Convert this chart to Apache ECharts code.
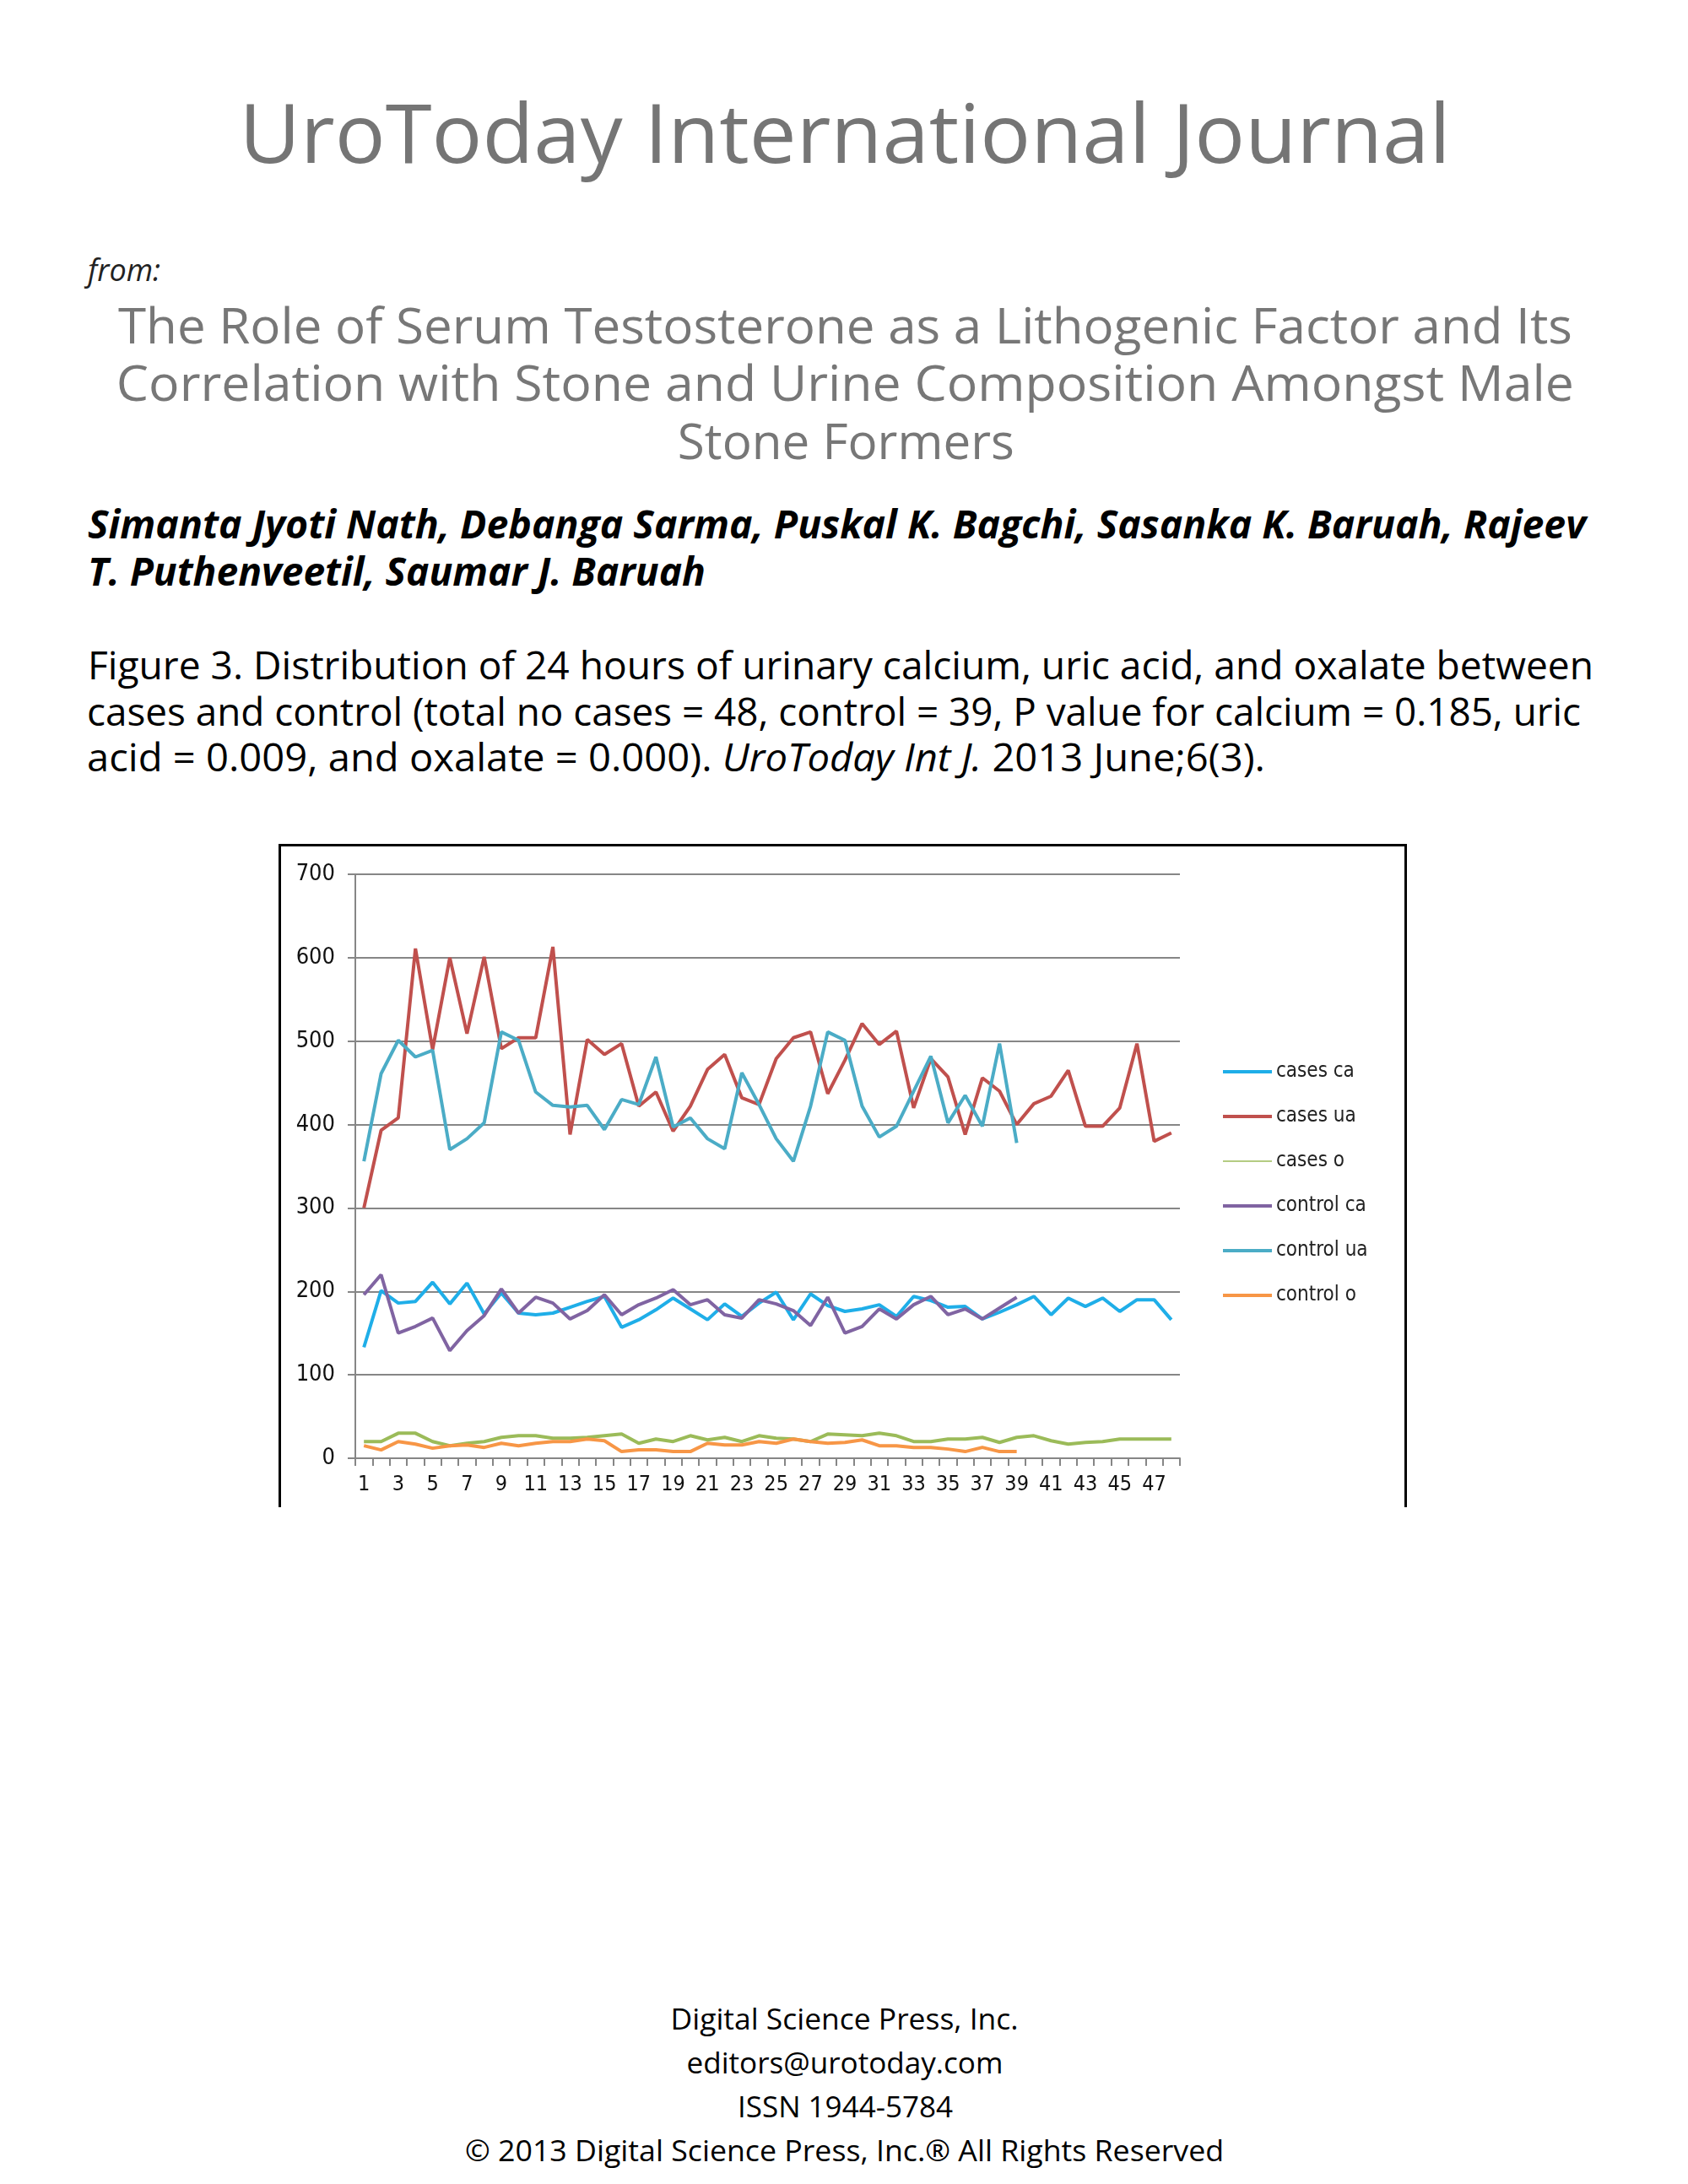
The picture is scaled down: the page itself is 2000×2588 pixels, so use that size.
<!DOCTYPE html>
<html>
<head>
<meta charset="utf-8">
<script src="https://cdn.jsdelivr.net/npm/echarts@6/dist/echarts.min.js"></script>
<style>
  html, body { margin: 0; padding: 0; background: #fff; }
  body { width: 2000px; height: 2588px; position: relative; overflow: hidden; }
  .ln { position: absolute; white-space: nowrap; line-height: 1; font-family: "Open Sans", "Noto Sans", sans-serif; }
  #frame { position: absolute; left: 330px; top: 1000px; width: 1337px; height: 786px;
           border: 3px solid #000; border-bottom: none; box-sizing: border-box; pointer-events: none; z-index: 2; }
  #chart { position: absolute; left: 332px; top: 1002px; width: 1334px; height: 783px; }
</style>
</head>
<body>
<div id="frame"></div>
<div id="chart"></div>
<script>
// patient index on the x axis
const cases = [];
for (let i = 1; i <= 48; i++) cases.push(String(i));

const seriesNames = ['cases ca', 'cases ua', 'cases o', 'control ca', 'control ua', 'control o'];

const casesCa = [133, 201, 186, 188, 211, 185, 210, 173, 198, 174, 172, 174, 181, 188, 194, 157, 166, 178, 192, 179,
                 166, 185, 170, 186, 199, 166, 197, 183, 176, 179, 184, 170, 194, 189, 181, 182, 167, 175, 184, 194,
                 172, 192, 182, 192, 176, 190, 190, 166];
const casesUa = [300, 393, 408, 611, 490, 600, 509, 601, 491, 504, 504, 613, 388, 502, 484, 497, 422, 439, 392, 422,
                 466, 484, 432, 424, 479, 504, 511, 437, 477, 521, 496, 512, 420, 479, 457, 388, 456, 440, 400, 425,
                 434, 465, 398, 398, 420, 497, 380, 390];
const casesO = [20, 20, 30, 30, 20, 15, 18, 20, 25, 27, 27, 24, 24, 25, 27, 29, 18, 23, 20, 27,
                22, 25, 20, 27, 24, 23, 20, 29, 28, 27, 30, 27, 20, 20, 23, 23, 25, 19, 25, 27,
                21, 17, 19, 20, 23, 23, 23, 23];
const controlCa = [196, 220, 150, 158, 168, 129, 153, 171, 203, 174, 193, 186, 167, 177, 196, 172, 184, 192, 202, 184,
                   190, 172, 168, 190, 185, 177, 159, 193, 150, 158, 179, 167, 184, 194, 172, 179, 167, 180, 193];
const controlUa = [356, 461, 501, 481, 489, 370, 383, 402, 511, 501, 439, 423, 421, 423, 394, 430, 424, 481, 397, 408,
                   383, 371, 462, 424, 383, 356, 422, 511, 501, 422, 385, 398, 440, 482, 402, 435, 398, 497, 378];
const controlO = [15, 10, 20, 17, 12, 15, 16, 13, 18, 15, 18, 20, 20, 23, 21, 8, 10, 10, 8, 8,
                  18, 16, 16, 20, 18, 23, 20, 18, 19, 22, 15, 15, 13, 13, 11, 8, 13, 8, 8];

const yTicks = [0, 100, 200, 300, 400, 500, 600, 700];

const colors = ['#1FAEE8', '#C0504D', '#9BBB59', '#8064A2', '#4BACC6', '#F79646'];

// page text: [text(html), x, align, baseline, size, width, style]
const pageLines = [
  ['UroToday International Journal', 1001, 'center', 193, 97, 1435, 'color:#757575'],
  ['from:', 104, 'left', 334, 36, 0, 'font-style:italic;color:#222'],
  ['The Role of Serum Testosterone as a Lithogenic Factor and Its', 1001, 'center', 408, 58, 1723, 'color:#777'],
  ['Correlation with Stone and Urine Composition Amongst Male', 1001, 'center', 476, 58, 1727, 'color:#777'],
  ['Stone Formers', 1002, 'center', 545, 58, 399, 'color:#777'],
  ['Simanta Jyoti Nath, Debanga Sarma, Puskal K. Bagchi, Sasanka K. Baruah, Rajeev', 104, 'left', 638, 46, 1775, 'font-style:italic;font-weight:bold;color:#000'],
  ['T. Puthenveetil, Saumar J. Baruah', 104, 'left', 694, 46, 732, 'font-style:italic;font-weight:bold;color:#000'],
  ['Figure 3. Distribution of 24 hours of urinary calcium, uric acid, and oxalate between', 104, 'left', 805, 45, 1784, 'color:#000'],
  ['cases and control (total no cases = 48, control = 39, P value for calcium = 0.185, uric', 103, 'left', 860, 45, 1770, 'color:#000'],
  ['acid = 0.009, and oxalate = 0.000). <i>UroToday Int J.</i> 2013 June;6(3).', 103, 'left', 914, 45, 1396, 'color:#000'],
  ['Digital Science Press, Inc.', 1001, 'center', 2405, 35, 412, 'color:#000'],
  ['editors@urotoday.com', 1001, 'center', 2457, 35, 375, 'color:#000'],
  ['ISSN 1944-5784', 1001, 'center', 2509, 35, 255, 'color:#000'],
  ['\u00A9 2013 Digital Science Press, Inc.\u00AE All Rights Reserved', 1001, 'center', 2561, 35, 899, 'color:#000']
];

pageLines.forEach(function (p) {
  const d = document.createElement('div');
  d.className = 'ln';
  d.innerHTML = p[0];
  d.style.cssText += p[6] + ';font-size:' + p[4] + 'px;top:' + (p[3] - 0.888 * p[4]) + 'px';
  document.body.appendChild(d);
  const w = d.getBoundingClientRect().width;
  const k = p[5] ? p[5] / w : 1;
  if (p[2] === 'center') {
    d.style.left = (p[1] - w / 2) + 'px';
    d.style.transformOrigin = '50% 50%';
  } else {
    d.style.left = p[1] + 'px';
    d.style.transformOrigin = '0 50%';
  }
  d.style.transform = 'scaleX(' + k + ')';
});

const chartFont = '"DejaVu Sans Condensed", "DejaVu Sans", sans-serif';
const thick = 'path://M0,0h58v4h-58z';
const thin = 'path://M0,0h58v1.6h-58z';

let myChart = echarts.init(document.getElementById('chart'), null, {renderer: 'canvas'});
let option = {
  animation: false,
  backgroundColor: '#fff',
  color: colors,
  grid: {left: 89, top: 34, width: 977, height: 692, containLabel: false},
  legend: {
    orient: 'vertical',
    left: 1112,
    top: 250,
    itemWidth: 58,
    itemHeight: 6,
    itemGap: 27,
    textStyle: {fontFamily: chartFont, fontSize: 24, color: '#222', lineHeight: 26},
    data: seriesNames.map(function (n, i) {
      return {name: n, icon: i === 2 ? thin : thick};
    })
  },
  xAxis: {
    type: 'category',
    data: cases,
    boundaryGap: true,
    axisLine: {lineStyle: {color: '#868686', width: 2}},
    axisTick: {show: true, interval: 0, length: 9, lineStyle: {color: '#868686', width: 2}},
    axisLabel: {interval: 1, margin: 19, fontFamily: chartFont, fontSize: 25, color: '#111'},
    splitLine: {show: false}
  },
  yAxis: {
    type: 'value',
    min: yTicks[0],
    max: yTicks[yTicks.length - 1],
    interval: 100,
    axisLine: {show: true, lineStyle: {color: '#868686', width: 2}},
    axisTick: {show: true, length: 9, lineStyle: {color: '#868686', width: 2}},
    axisLabel: {margin: 24, fontFamily: chartFont, fontSize: 27, color: '#111'},
    splitLine: {lineStyle: {color: '#868686', width: 2}}
  },
  series: [casesCa, casesUa, casesO, controlCa, controlUa, controlO].map(function (vals, i) {
    return {
      name: seriesNames[i],
      type: 'line',
      data: vals,
      symbol: 'none',
      lineStyle: {width: 4, color: colors[i]},
      itemStyle: {color: colors[i]}
    };
  })
};
myChart.setOption(option);
</script>
</body>
</html>
